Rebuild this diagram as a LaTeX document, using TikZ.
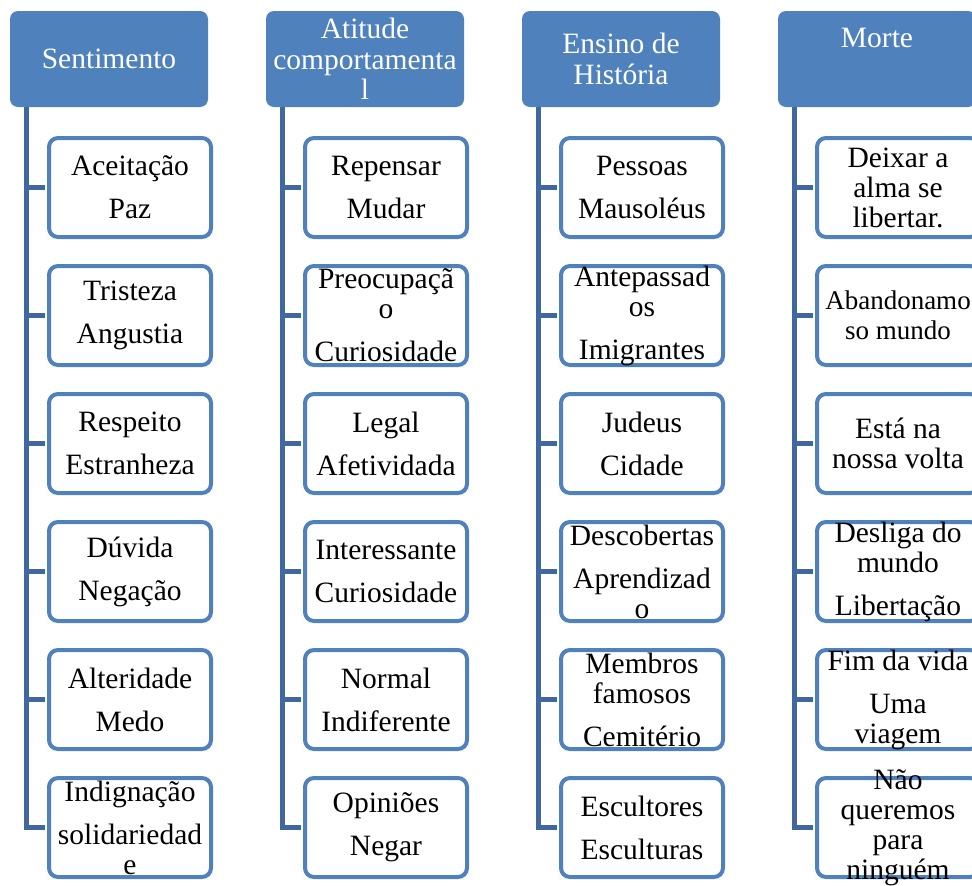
\documentclass[tikz,border=0pt]{standalone}
\usepackage{fontspec}
\setmainfont{Liberation Serif}
\usetikzlibrary{calc}
\definecolor{boxblue}{RGB}{79,129,189}
\definecolor{linkblue}{RGB}{64,104,158}

\begin{document}
\begin{tikzpicture}[x=1pt, y=-1pt,
    head/.style={fill=boxblue, rounded corners=8pt, minimum width=198pt,
      minimum height=96pt, inner sep=0pt},
    headtext/.style={text=white, align=center, inner sep=0pt,
      font=\fontsize{29.5}{30.5}\selectfont},
    item/.style={draw=boxblue, line width=4pt, fill=white, rounded corners=9pt,
      minimum width=162pt, minimum height=99pt, inner sep=0pt},
    itemtext/.style={align=center, inner sep=0pt,
      font=\fontsize{29.5}{30}\selectfont},
    link/.style={draw=linkblue, line width=5pt, shorten >=2pt}]
  \useasboundingbox (0,0) rectangle (972,886);
  \clip (0,0) rectangle (972,886);
  % #1 column, #2 row, #3 extra style, #4 text
  \def\putitem#1#2#3#4{%
    \node[item] (c#1-#2) at ({130+256*(#1-1)},{59.5+128*#2}) {};
    \node[itemtext,#3] (t#1-#2) at (c#1-#2) {#4};
    \draw[link] ($(h#1.south west)+(17,0)$) |- (c#1-#2.west);
  }
  % column heads
  \node[head] (h1) at (109,59) {};
  \node[head] (h2) at (365,59) {};
  \node[head] (h3) at (621,59) {};
  \node[head] (h4) at (877,59) {};
  \node[headtext] (h1t) at (h1) {Sentimento};
  \node[headtext] (h2t) at (h2) {Atitude\\comportamenta\\l};
  \node[headtext] (h3t) at (h3) {Ensino de\\História};
  \node[headtext] (h4t) at ($(h4)+(0,-21)$) {Morte};
  % Sentimento
  \putitem{1}{1}{}{Aceitação\\[13pt]Paz}
  \putitem{1}{2}{}{Tristeza\\[13pt]Angustia}
  \putitem{1}{3}{}{Respeito\\[13pt]Estranheza}
  \putitem{1}{4}{}{Dúvida\\[13pt]Negação}
  \putitem{1}{5}{}{Alteridade\\[13pt]Medo}
  \putitem{1}{6}{}{Indignação\\[13pt]solidariedad\\e}
  % Atitude comportamental
  \putitem{2}{1}{}{Repensar\\[13pt]Mudar}
  \putitem{2}{2}{}{Preocupaçã\\o\\[13pt]Curiosidade}
  \putitem{2}{3}{}{Legal\\[13pt]Afetividada}
  \putitem{2}{4}{}{Interessante\\[13pt]Curiosidade}
  \putitem{2}{5}{}{Normal\\[13pt]Indiferente}
  \putitem{2}{6}{}{Opiniões\\[13pt]Negar}
  % Ensino de Historia
  \putitem{3}{1}{}{Pessoas\\[13pt]Mausoléus}
  \putitem{3}{2}{}{Antepassad\\os\\[13pt]Imigrantes}
  \putitem{3}{3}{}{Judeus\\[13pt]Cidade}
  \putitem{3}{4}{}{Descobertas\\[13pt]Aprendizad\\o}
  \putitem{3}{5}{}{Membros\\famosos\\[13pt]Cemitério}
  \putitem{3}{6}{}{Escultores\\[13pt]Esculturas}
  % Morte
  \putitem{4}{1}{}{Deixar a\\alma se\\libertar.}
  \putitem{4}{2}{font=\fontsize{27}{30}\selectfont}{Abandonamo\\so mundo}
  \putitem{4}{3}{}{Está na\\nossa volta}
  \putitem{4}{4}{}{Desliga do\\mundo\\[13pt]Libertação}
  \putitem{4}{5}{}{Fim da vida\\[13pt]Uma\\viagem}
  \putitem{4}{6}{}{Não\\queremos\\para\\ninguém}
\end{tikzpicture}
\end{document}
